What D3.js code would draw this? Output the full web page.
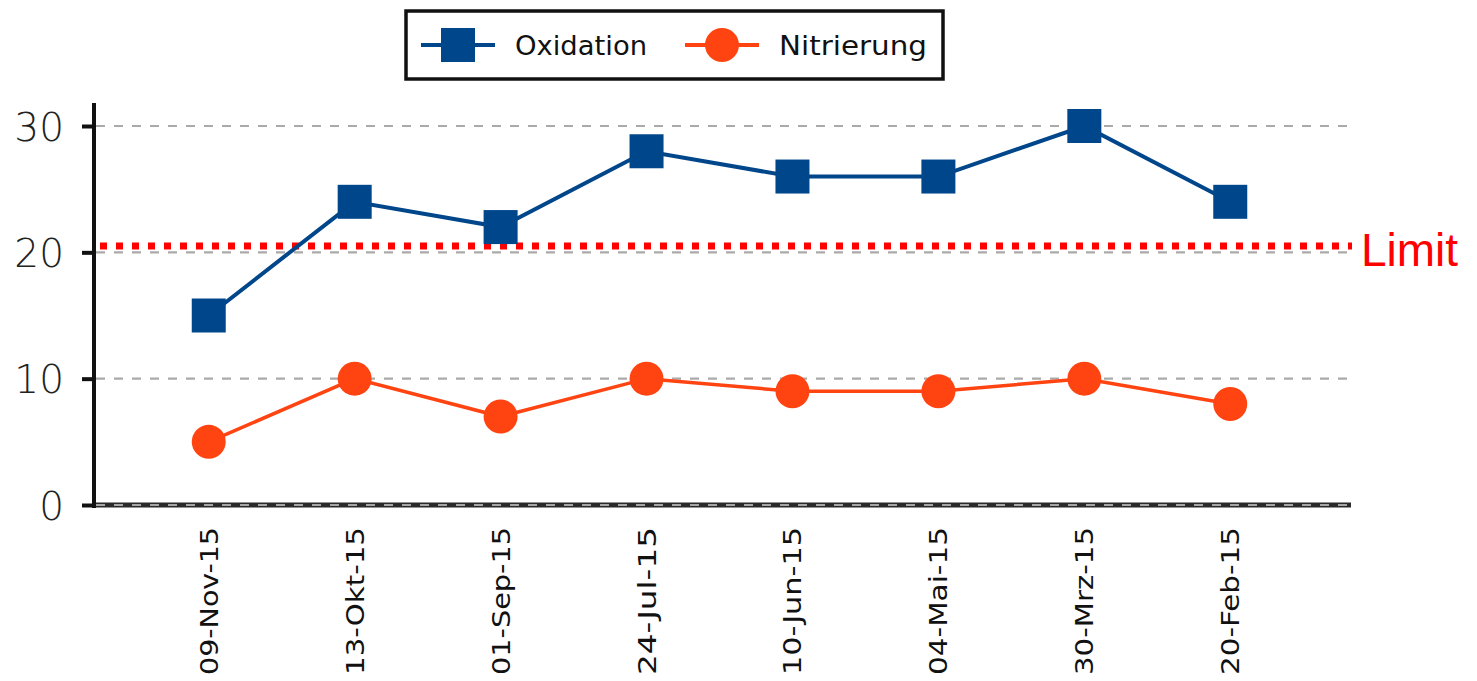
<!DOCTYPE html>
<html>
<head>
<meta charset="utf-8">
<script src="https://cdn.jsdelivr.net/npm/d3@7"></script>
<style>
  body { margin: 0; background: #fff; }
  svg { display: block; }
</style>
</head>
<body>
<div class="canvas"></div>
<script>
const categories = ['09-Nov-15', '13-Okt-15', '01-Sep-15', '24-Jul-15', '10-Jun-15', '04-Mai-15', '30-Mrz-15', '20-Feb-15'];
const oxidation = [15, 24, 22, 28, 26, 26, 30, 24];
const nitrierung = [5, 10, 7, 10, 9, 9, 10, 8];
const yTicks = [0, 10, 20, 30];
const limitValue = 20.5;

const WIDTH = 1477;
const HEIGHT = 681;
const BLUE = '#00468b';
const ORANGE = '#ff4411';

const svg = d3.select('.canvas')
    .append('svg')
    .attr('width', WIDTH)
    .attr('height', HEIGHT);

// scales
const x = d3.scalePoint()
    .domain(categories)
    .range([92, 1347])
    .padding(0.8);

const y = d3.scaleLinear()
    .domain([0, 30])
    .range([505, 126]);

// grid lines (the zero line sits on a dark base)
svg.append('g')
    .selectAll('line')
    .data(yTicks.filter(d => d === 0))
    .enter()
    .append('line')
    .attr('x1', 94)
    .attr('x2', 1351)
    .attr('y1', d => y(d))
    .attr('y2', d => y(d))
    .attr('stroke', '#2a2a2a')
    .attr('stroke-width', 5);

svg.append('g')
    .selectAll('line')
    .data(yTicks)
    .enter()
    .append('line')
    .attr('x1', 96)
    .attr('x2', 1350)
    .attr('y1', d => y(d))
    .attr('y2', d => y(d))
    .attr('stroke', d => d === 0 ? '#cfcfcf' : '#aaa')
    .attr('stroke-width', d => d === 0 ? 1.5 : 2.2)
    .attr('stroke-dasharray', '9,9');

// y axis
const yAxis = d3.axisLeft(y)
    .tickValues(yTicks)
    .tickSize(12)
    .tickPadding(18);

const yAxisG = svg.append('g')
    .attr('transform', 'translate(94,0)')
    .call(yAxis);

yAxisG.select('.domain').remove();
yAxisG.append('line')
    .attr('x1', 0).attr('x2', 0)
    .attr('y1', 103).attr('y2', 508)
    .attr('stroke', '#111')
    .attr('stroke-width', 4);
yAxisG.selectAll('.tick line')
    .attr('stroke', '#111')
    .attr('stroke-width', 4);
yAxisG.selectAll('.tick text')
    .attr('font-family', 'DejaVu Sans')
    .attr('font-weight', 200)
    .attr('font-size', 39)
    .attr('fill', '#222')
    .attr('dy', '0.36em');

// x labels
svg.append('g')
    .selectAll('text')
    .data(categories)
    .enter()
    .append('text')
    .attr('transform', d => `translate(${x(d) + 9},527) rotate(-90)`)
    .attr('text-anchor', 'end')
    .attr('font-family', 'DejaVu Sans')
    .attr('font-size', 25)
    .attr('fill', '#111')
    .attr('textLength', 148)
    .attr('lengthAdjust', 'spacingAndGlyphs')
    .text(d => d);

// limit line
svg.append('line')
    .attr('x1', 100)
    .attr('x2', 1352)
    .attr('y1', y(limitValue))
    .attr('y2', y(limitValue))
    .attr('stroke', '#ff0000')
    .attr('stroke-width', 7)
    .attr('stroke-dasharray', '7,9');

svg.append('text')
    .attr('x', 1361)
    .attr('y', y(limitValue) + 20)
    .attr('font-family', 'Liberation Sans, Arial, sans-serif')
    .attr('font-size', 46)
    .attr('fill', '#ff0000')
    .text('Limit');

// series
const line = d3.line()
    .x((d, i) => x(categories[i]))
    .y(d => y(d));

svg.append('path')
    .datum(nitrierung)
    .attr('d', line)
    .attr('fill', 'none')
    .attr('stroke', ORANGE)
    .attr('stroke-width', 3.5);

svg.append('g')
    .selectAll('circle')
    .data(nitrierung)
    .enter()
    .append('circle')
    .attr('cx', (d, i) => x(categories[i]))
    .attr('cy', d => y(d))
    .attr('r', 17)
    .attr('fill', ORANGE);

svg.append('path')
    .datum(oxidation)
    .attr('d', line)
    .attr('fill', 'none')
    .attr('stroke', BLUE)
    .attr('stroke-width', 4);

svg.append('g')
    .selectAll('rect')
    .data(oxidation)
    .enter()
    .append('rect')
    .attr('x', (d, i) => x(categories[i]) - 17)
    .attr('y', d => y(d) - 17)
    .attr('width', 34)
    .attr('height', 34)
    .attr('fill', BLUE);

// legend
const legend = svg.append('g');

legend.append('rect')
    .attr('x', 406)
    .attr('y', 11)
    .attr('width', 537)
    .attr('height', 68)
    .attr('fill', '#fff')
    .attr('stroke', '#111')
    .attr('stroke-width', 3.5);

const legendItems = [
    { name: 'Oxidation', color: BLUE, shape: 'rect', x0: 421, len: 132 },
    { name: 'Nitrierung', color: ORANGE, shape: 'circle', x0: 685, len: 148 }
];

legendItems.forEach(item => {
    legend.append('line')
        .attr('x1', item.x0)
        .attr('x2', item.x0 + 74)
        .attr('y1', 45)
        .attr('y2', 45)
        .attr('stroke', item.color)
        .attr('stroke-width', 4);
    if (item.shape === 'rect') {
        legend.append('rect')
            .attr('x', item.x0 + 37 - 17)
            .attr('y', 28)
            .attr('width', 34)
            .attr('height', 34)
            .attr('fill', item.color);
    } else {
        legend.append('circle')
            .attr('cx', item.x0 + 37)
            .attr('cy', 45)
            .attr('r', 17)
            .attr('fill', item.color);
    }
    legend.append('text')
        .attr('x', item.x0 + 94)
        .attr('y', 55)
        .attr('font-family', 'DejaVu Sans')
        .attr('font-size', 26)
        .attr('fill', '#111')
        .attr('textLength', item.len)
        .attr('lengthAdjust', 'spacingAndGlyphs')
        .text(item.name);
});
</script>
</body>
</html>
